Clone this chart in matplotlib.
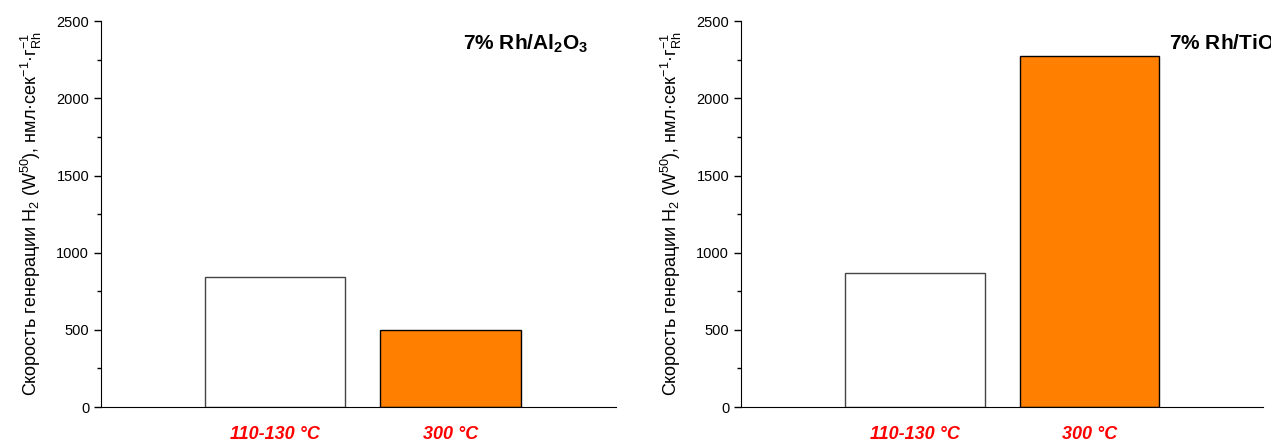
import matplotlib.pyplot as plt
import numpy as np

plt.rcParams['font.family'] = ['Liberation Sans', 'DejaVu Sans']
plt.rcParams['mathtext.fontset'] = 'custom'
plt.rcParams['mathtext.rm'] = 'Liberation Sans'
plt.rcParams['mathtext.it'] = 'Liberation Sans:italic'
plt.rcParams['mathtext.bf'] = 'Liberation Sans:bold'

# data
categories = ['110-130 °C', '300 °C']
al2o3_rates = [840, 497]
tio2_rates = [868, 2273]
titles = [r'7% Rh/Al$_\mathbf{2}$O$_\mathbf{3}$', r'7% Rh/TiO$_\mathbf{2}$']
bar_colors = ['white', '#ff8000']
edge_colors = ['#444444', 'black']

ylabel = (r'Скорость генерации H$_2$ (W$^{50}$), нмл·сек$^{-1}$·г$^{-1}_{\mathrm{Rh}}$')

fig = plt.figure(figsize=(12.71, 4.41), dpi=100)
ax1 = fig.add_axes([0.0795, 0.077, 0.405, 0.875])
ax2 = fig.add_axes([0.583, 0.077, 0.411, 0.875])

x = np.arange(1, len(categories) + 1)
xlims = [(0.01, 2.94), (0, 3)]
title_pos = [(2.07, 2350), (2.46, 2350)]

for ax, vals, title, tpos, xl in zip([ax1, ax2], [al2o3_rates, tio2_rates], titles, title_pos, xlims):
    ax.bar(x, vals, width=0.8, color=bar_colors, edgecolor=edge_colors, linewidth=1.0)
    ax.set_xlim(*xl)
    ax.set_ylim(0, 2500)
    ax.spines['top'].set_visible(False)
    ax.spines['right'].set_visible(False)
    ax.set_yticks([0, 500, 1000, 1500, 2000, 2500])
    ax.set_yticks(np.arange(250, 2500, 500), minor=True)
    ax.tick_params(axis='y', which='major', direction='out', length=5, width=1, labelsize=10.5)
    ax.tick_params(axis='y', which='minor', direction='out', length=3, width=1)
    ax.set_xticks(x)
    ax.set_xticklabels(categories, color='red', fontweight='bold', fontstyle='italic', fontsize=13)
    ax.tick_params(axis='x', length=0, pad=13.5)
    ax.set_ylabel(ylabel, fontsize=13, labelpad=9)
    ax.text(tpos[0], tpos[1], title, fontsize=15, fontweight='bold', ha='left', va='center',
            clip_on=False)

fig.savefig('out.png', dpi=100)
